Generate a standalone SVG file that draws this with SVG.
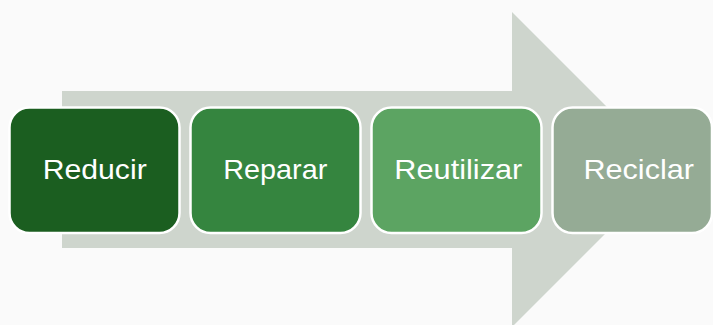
<svg xmlns="http://www.w3.org/2000/svg" width="713" height="325" viewBox="0 0 713 325">
  <style>
    .step { stroke: #ffffff; stroke-width: 2.5; }
    .label { font-family: "Liberation Sans", Arial, sans-serif; font-size: 28px; fill: #ffffff; text-anchor: middle; }
  </style>
  <rect x="0" y="0" width="713" height="325" fill="#fafafa"/>
  <!-- background process arrow -->
  <g id="flow-arrow">
    <polygon points="62,91 512,91 512,12 669.5,169.5 512,327 512,248 62,248" fill="#ced5cd"/>
  </g>
  <g id="connectors"/>
  <g id="step-reducir">
    <rect class="step" x="9.5" y="107.5" width="170" height="125.5" rx="20" fill="#1b5e20"/>
    <text class="label" x="94.7" y="178.5" textLength="104" lengthAdjust="spacingAndGlyphs">Reducir</text>
  </g>
  <g id="step-reparar">
    <rect class="step" x="190.5" y="107.5" width="170" height="125.5" rx="20" fill="#35853f"/>
    <text class="label" x="275.3" y="178.5" textLength="104" lengthAdjust="spacingAndGlyphs">Reparar</text>
  </g>
  <g id="step-reutilizar">
    <rect class="step" x="371.5" y="107.5" width="170" height="125.5" rx="20" fill="#5ca462"/>
    <text class="label" x="458.3" y="178.5" textLength="128" lengthAdjust="spacingAndGlyphs">Reutilizar</text>
  </g>
  <g id="step-reciclar">
    <rect class="step" x="552.5" y="107.5" width="159.5" height="125.5" rx="20" fill="#95ab95"/>
    <text class="label" x="638.7" y="178.5" textLength="110.5" lengthAdjust="spacingAndGlyphs">Reciclar</text>
  </g>
</svg>
